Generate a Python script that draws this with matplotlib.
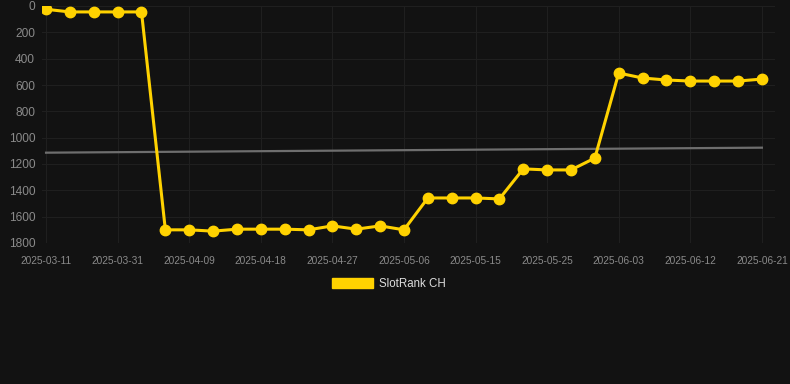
import matplotlib.pyplot as plt

# rank per snapshot (lower is better, axis inverted)
ranks = [25, 45, 45, 45, 45, 1700, 1700, 1710, 1695, 1695, 1695, 1700, 1670, 1695,
         1670, 1700, 1458, 1458, 1458, 1465, 1237, 1245, 1245, 1155, 509, 547, 562,
         570, 570, 570, 555]
tick_labels = ["2025-03-11", "2025-03-31", "2025-04-09", "2025-04-18", "2025-04-27",
               "2025-05-06", "2025-05-15", "2025-05-25", "2025-06-03", "2025-06-12",
               "2025-06-21"]
trend = [1114, 1076]
series_name = "SlotRank CH"

BG = "#121212"
YELLOW = "#ffd200"

fig = plt.figure(figsize=(7.9, 3.84), dpi=100, facecolor=BG)
ax = fig.add_axes([42 / 790, 1 - 243 / 384, (775 - 42) / 790, (243 - 6) / 384])
ax.set_facecolor(BG)

x = list(range(len(ranks)))
ax.plot([x[0], x[-1]], trend, color="#6e6e6e", lw=1.6, zorder=2)
ax.plot(x, ranks, color=YELLOW, lw=2.2, marker="o", markersize=7.5, zorder=3,
        label=series_name)

ax.set_ylim(1800, 0)
ax.set_xlim(-0.17, 30.55)
ax.set_yticks(range(0, 1801, 200))
ax.set_xticks(x[::3])
ax.set_xticklabels(tick_labels)

for s in ax.spines.values():
    s.set_visible(False)
ax.grid(True, color="#1f1f1f", lw=0.8)
ax.set_axisbelow(True)
ax.tick_params(length=0, pad=6)
ax.tick_params(axis="x", labelsize=7.3, colors="#8a8a8a", pad=9)
ax.tick_params(axis="y", labelsize=8.6, colors="#8a8a8a", pad=5)
for t in ax.get_xticklabels() + ax.get_yticklabels():
    t.set_fontfamily("Liberation Sans")

handle = plt.Rectangle((0, 0), 1, 1, color=YELLOW)
leg = fig.legend([handle], [series_name], loc="center", bbox_to_anchor=(389 / 790, 1 - 284 / 384),
                 frameon=False, handlelength=3.6, handleheight=0.9, handletextpad=0.5,
                 prop={"family": "Liberation Sans", "size": 8.3})
for t in leg.get_texts():
    t.set_color("#dddddd")

fig.savefig("out.png", dpi=100, facecolor=BG)
